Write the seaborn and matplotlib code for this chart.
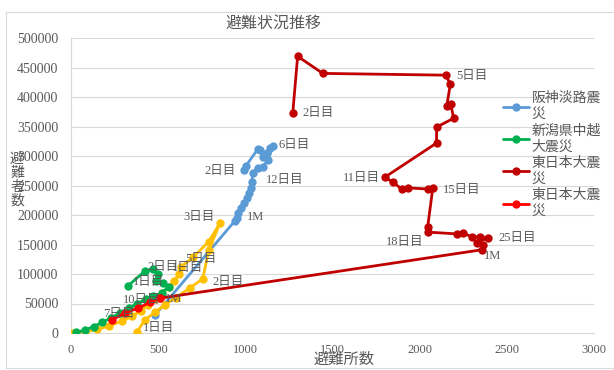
import matplotlib
matplotlib.use("Agg")
import matplotlib.pyplot as plt
from matplotlib.lines import Line2D
from matplotlib.patches import Rectangle
import seaborn as sns
import pandas as pd

# ---- data: shelters (x) and evacuees (y) per observation ----
hanshin_x = [991, 1003, 1072, 1083, 1100, 1123, 1140, 1158, 1129, 1100, 1072, 1043,
             1037, 1032, 1020, 1009, 991, 974, 957, 951, 940, 481]
hanshin_y = [276000, 283000, 312000, 310000, 298000, 305000, 314000, 317000, 293000,
             281000, 280000, 271000, 256000, 246000, 237000, 229000, 220000, 212000,
             203000, 195000, 190000, 30000]

kumamoto_x = [378, 424, 480, 540, 600, 680, 756, 790, 854, 790, 700, 630, 620, 590,
              560, 520, 480, 440, 400, 350, 290, 220, 150, 80, 20, 0]
kumamoto_y = [2000, 22000, 35000, 48000, 60000, 76000, 92000, 140000, 186000, 155000,
              128000, 112000, 100000, 88000, 78000, 68000, 58000, 48000, 38000, 28000,
              20000, 12000, 6000, 2000, 500, 0]

niigata_x = [327, 424, 470, 500, 490, 530, 560, 520, 470, 430, 380, 330, 280, 230,
             180, 130, 80, 30]
niigata_y = [80000, 105000, 108000, 100000, 88000, 85000, 78000, 68000, 62000, 58000,
             50000, 42000, 34000, 26000, 18000, 11000, 5000, 1000]

tohoku_x = [1272, 1300, 1444, 2149, 2176, 2155, 2178, 2195, 2097, 2097, 1800, 1845,
            1897, 1931, 2046, 2075, 2046, 2046, 2212, 2247, 2298, 2344, 2390, 2327,
            2361, 2355, 510]
tohoku_y = [373000, 469000, 440000, 437000, 422000, 384000, 388000, 364000, 349000,
            322000, 264000, 256000, 244000, 246000, 244000, 245000, 180000, 171000,
            168000, 170000, 163000, 163000, 161000, 153000, 149000, 141000, 59000]

tohoku2_x = [510, 453, 384, 309, 235]
tohoku2_y = [59000, 52000, 42000, 34000, 22000]

series_names = ["阪神淡路震災", "熊本地震", "新潟県中越大震災", "東日本大震災", "東日本大震災 "]
legend_labels = ["阪神淡路震\n災", "新潟県中越\n大震災", "東日本大震\n災", "東日本大震\n災"]
colors = ["#5B9BD5", "#FFC000", "#00B050", "#C00000", "#FF0000"]

# day labels: (series index, point index, text)
day_labels = [
    (0, 0, "2日目"), (0, 7, "6日目"), (0, 12, "12日目"), (0, 20, "1M"),
    (1, 0, "1日目"), (1, 6, "2日目"), (1, 8, "3日目"), (1, 11, "5日目"),
    (2, 0, "1日目"), (2, 1, "2日目"), (2, 2, "1日目"),
    (3, 0, "2日目"), (3, 3, "5日目"), (3, 10, "11日目"), (3, 15, "15日目"),
    (3, 17, "18日目"), (3, 22, "25日目"), (3, 25, "1M"),
    (4, 0, "1M"), (4, 2, "10日目"), (4, 4, "7日目"),
]
# placement of each label relative to its point (pixels) and alignment
label_place = [
    (-8, -1, "right"), (6, 1, "left"), (14, 2, "left"), (12, 4, "left"),
    (6, 4, "left"), (10, -3, "left"), (-5, 6, "right"), (4, 8, "left"),
    (5, 4, "left"), (3, 4, "left"), (19, 1, "left"),
    (10, 0, "left"), (11, -1, "left"), (-5, -1, "right"), (10, -2, "left"),
    (-4, -10, "right"), (11, 0, "left"), (2, -6, "left"),
    (5, -1, "left"), (-15, 8, "left"), (-9, 6, "left"),
]

xs = [hanshin_x, kumamoto_x, niigata_x, tohoku_x, tohoku2_x]
ys = [hanshin_y, kumamoto_y, niigata_y, tohoku_y, tohoku2_y]

frames = []
for name, sx, sy in zip(series_names, xs, ys):
    frames.append(pd.DataFrame({"避難所数": sx, "避難者数": sy, "series": name,
                                "step": range(len(sx))}))
df = pd.concat(frames, ignore_index=True)

sns.set_theme(style="white")
plt.rcParams["font.family"] = ["Liberation Serif", "Noto Sans CJK JP", "DejaVu Sans"]

fig = plt.figure(figsize=(6.14, 3.70), dpi=100)
ax = fig.add_axes([71 / 614, 1 - 333 / 370, (594 - 71) / 614, (333 - 38) / 370])

for i, name in enumerate(series_names):
    sub = df[df["series"] == name]
    sns.lineplot(data=sub, x="避難所数", y="避難者数", sort=False, estimator=None,
                 color=colors[i], marker="o", markersize=6, markeredgewidth=0,
                 linewidth=2.0, ax=ax, legend=False, zorder=3 + i)

gray = "#595959"
for (si, pi, txt), (dx, dy, ha) in zip(day_labels, label_place):
    ax.annotate(txt, xy=(xs[si][pi], ys[si][pi]), xytext=(dx, dy),
                textcoords="offset pixels", ha=ha, va="center", fontsize=9,
                color=gray, zorder=10,
                family=["Liberation Serif", "Noto Sans CJK JP"])

ax.set_xlim(0, 3000)
ax.set_ylim(0, 500000)
ax.set_xticks(range(0, 3001, 500))
ax.set_yticks(range(0, 500001, 50000))
ax.tick_params(axis="y", length=0, pad=9, labelsize=10, labelcolor=gray)
ax.tick_params(axis="x", length=0, pad=8, labelsize=9, labelcolor=gray)
ax.yaxis.grid(True, color="#d9d9d9", linewidth=0.8)
ax.xaxis.grid(False)
for side in ["top", "right"]:
    ax.spines[side].set_visible(False)
for side in ["left", "bottom"]:
    ax.spines[side].set_color("#d9d9d9")
    ax.spines[side].set_linewidth(0.8)
ax.set_xlabel("")
ax.set_ylabel("")

fig.text(273 / 614, 1 - 23 / 370, "避難状況推移", ha="center", va="center",
         fontsize=11.5, color=gray, family=["Noto Sans CJK JP"])
fig.text(344 / 614, 1 - 359 / 370, "避難所数", ha="center", va="center",
         fontsize=11, color=gray, family=["Noto Sans CJK JP"])
fig.text(17 / 614, 1 - 180 / 370, "避\n難\n者\n数", ha="center", va="center",
         fontsize=10, color=gray, linespacing=1.0, family=["Noto Sans CJK JP"])

handles = [Line2D([0], [0], color=c, marker="o", markersize=6, markeredgewidth=0,
                  linewidth=2.0) for c in [colors[0], colors[2], colors[3], colors[4]]]
fig.legend(handles, legend_labels, loc="upper left",
           bbox_to_anchor=(503 / 614, 1 - 91 / 370), frameon=False,
           prop={"family": "Noto Sans CJK JP", "size": 10},
           labelcolor=gray, handlelength=1.9, handletextpad=0.15,
           labelspacing=0.15, borderpad=0, borderaxespad=0)

fig.patches.append(Rectangle((6 / 614, 2 / 370), 1.0, (368 - 12) / 370,
                             transform=fig.transFigure, fill=False,
                             edgecolor="#d9d9d9", linewidth=0.8))

fig.savefig("out.png", dpi=100)
